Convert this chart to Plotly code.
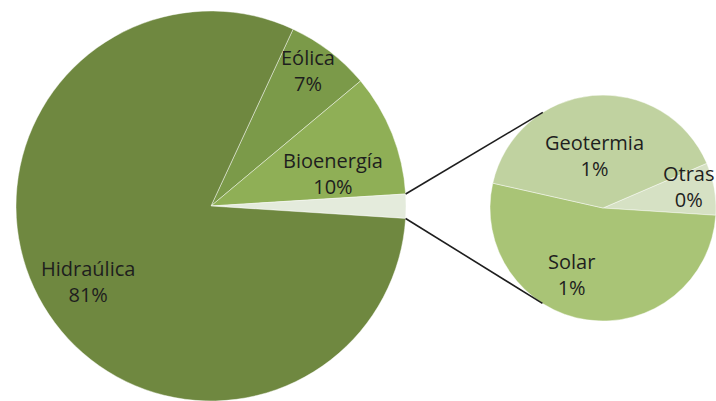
import math
import plotly.graph_objects as go

W, H = 716, 401

# Main breakdown (percent of total); the small sources are grouped into one slice
main_labels = ["Eólica", "Bioenergía", "Hidraúlica"]
main_values = [7.0, 10.1, 80.9]

# Breakdown of the grouped slice (percent of total)
detail_labels = ["Otras", "Solar", "Geotermia"]
detail_values = [0.15, 1.05, 0.8]

main_colors = ["#7b9a49", "#8faf56", "#e4ebdc", "#6f8840"]
detail_colors = ["#d6e1c4", "#a9c476", "#c0d2a0"]

# Geometry in pixels (centre x, centre y, radius)
MAIN_C = (211, 206, 195)
DETAIL_C = (603, 208, 113)
MAIN_ROT = 24.9
DETAIL_ROT = 66.7

grouped = sum(detail_values)
pie_labels = main_labels[:2] + ["Otras fuentes"] + main_labels[2:]
pie_values = main_values[:2] + [grouped] + main_values[2:]
total = sum(pie_values)


def dom(c):
    cx, cy, r = c
    return dict(x=[(cx - r) / W, min((cx + r) / W, 1.0)],
                y=[max((H - cy - r) / H, 0.0), (H - cy + r) / H])


def px(x, y):
    return x / W, 1 - y / H


def on_circle(c, ang):
    cx, cy, r = c
    a = math.radians(ang)
    return cx + r * math.sin(a), cy - r * math.cos(a)


fig = go.Figure()
fig.add_trace(go.Pie(
    labels=pie_labels, values=pie_values, sort=False, direction="clockwise",
    rotation=MAIN_ROT, textinfo="none", hoverinfo="label+percent",
    marker=dict(colors=main_colors, line=dict(color="rgba(255,255,255,0.55)", width=0.8)),
    domain=dom(MAIN_C), showlegend=False,
))
fig.add_trace(go.Pie(
    labels=detail_labels, values=detail_values, sort=False, direction="clockwise",
    rotation=DETAIL_ROT, textinfo="none", hoverinfo="label",
    marker=dict(colors=detail_colors, line=dict(color="rgba(255,255,255,0.55)", width=0.8)),
    domain=dom(DETAIL_C), showlegend=False,
))

# Connector lines from the grouped slice to the detail pie
a_start = MAIN_ROT + sum(main_values[:2]) / total * 360
a_end = a_start + grouped / total * 360
for a_main, a_det in [(a_start, -32.2), (a_end, 212.4)]:
    x0, y0 = on_circle(MAIN_C, a_main)
    x1, y1 = on_circle(DETAIL_C, a_det)
    p0, p1 = px(x0, y0), px(x1, y1)
    fig.add_shape(type="line", xref="paper", yref="paper",
                  x0=p0[0], y0=p0[1], x1=p1[0], y1=p1[1],
                  line=dict(color="#1e1e1e", width=1.6))

# Slice labels: name and share of the total
label_pos = {
    "Eólica": (308, 71), "Bioenergía": (333, 173), "Hidraúlica": (88, 281),
    "Geotermia": (594, 155), "Otras": (689, 187), "Solar": (571, 274),
}
all_vals = dict(zip(main_labels + detail_labels, main_values + detail_values))
for name, v in all_vals.items():
    x, y = px(*label_pos[name])
    fig.add_annotation(x=x, y=y, xref="paper", yref="paper", showarrow=False,
                       xanchor="center", yanchor="middle",
                       text=f"{name}<br>{v / total * 100:.0f}%", align="center",
                       font=dict(family="Open Sans", size=20, color="#1e1e1e"))

fig.update_layout(width=W, height=H, margin=dict(l=0, r=0, t=0, b=0),
                  paper_bgcolor="white", plot_bgcolor="white")
fig.write_html("out.html")
